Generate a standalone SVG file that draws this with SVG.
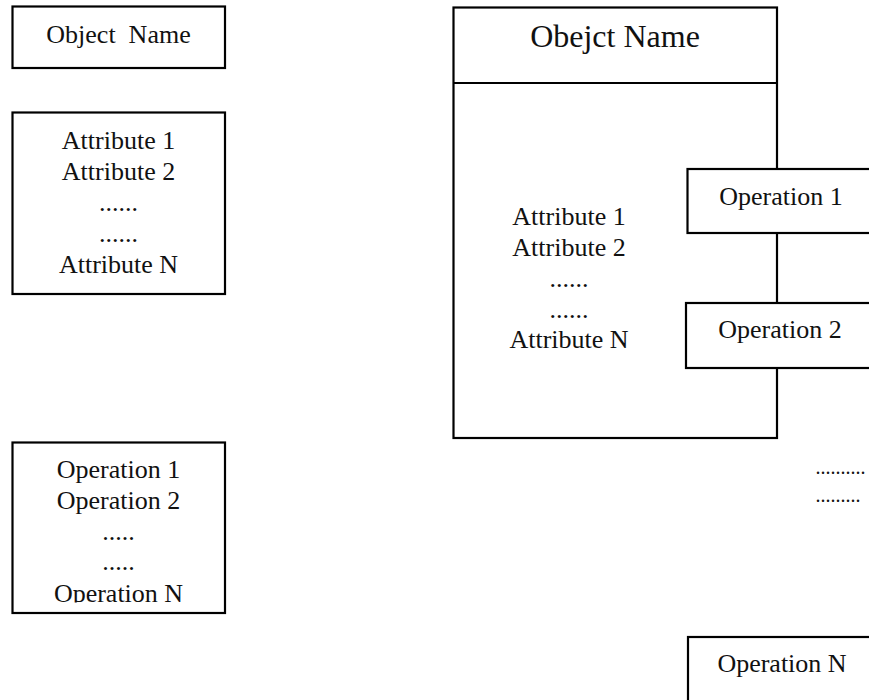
<svg xmlns="http://www.w3.org/2000/svg" width="869" height="700" viewBox="0 0 869 700">
<style>
.box{fill:#fff;stroke:#000;stroke-width:2.2}
.t{font-family:"Liberation Serif","Times New Roman",serif;font-size:26px;fill:#111;text-anchor:middle}
.dots{font-family:"Liberation Serif","Times New Roman",serif;font-size:20px;fill:#111}
</style>
<defs>
<clipPath id="clipOps"><rect x="12" y="442" width="213" height="160.5"/></clipPath>
</defs>
<rect width="869" height="700" fill="#fff"/>
<g id="object-name">
<rect class="box" x="12.5" y="6.5" width="212.5" height="61.5"/>
<text class="t" x="118.5" y="43" xml:space="preserve">Object  Name</text>
</g>
<g id="attributes">
<rect class="box" x="12.5" y="112.5" width="212.5" height="181.5"/>
<text class="t" x="118.5" y="149">Attribute 1</text>
<text class="t" x="118.5" y="180">Attribute 2</text>
<text class="t" x="118.5" y="211">......</text>
<text class="t" x="118.5" y="242">......</text>
<text class="t" x="118.5" y="273">Attribute N</text>
</g>
<g id="operations">
<rect class="box" x="12.5" y="442.5" width="212.5" height="170.5"/>
<g clip-path="url(#clipOps)">
<text class="t" x="118.5" y="478">Operation 1</text>
<text class="t" x="118.5" y="509">Operation 2</text>
<text class="t" x="118.5" y="540">.....</text>
<text class="t" x="118.5" y="570">.....</text>
<text class="t" x="118.5" y="601.5">Operation N</text>
</g>
</g>
<g id="object">
<rect class="box" x="453.5" y="7.5" width="323.5" height="430.5"/>
<line x1="453.5" y1="83" x2="777" y2="83" stroke="#000" stroke-width="2.2"/>
<text class="t" x="615" y="47" style="font-size:32px">Obejct Name</text>
<text class="t" x="569" y="225">Attribute 1</text>
<text class="t" x="569" y="256">Attribute 2</text>
<text class="t" x="569" y="287">......</text>
<text class="t" x="569" y="318">......</text>
<text class="t" x="569" y="348">Attribute N</text>
</g>
<g id="connectors"></g>
<g id="operation-1">
<rect class="box" x="687.5" y="169" width="200" height="64"/>
<text class="t" x="781" y="205">Operation 1</text>
</g>
<g id="operation-2">
<rect class="box" x="686" y="303" width="200" height="65"/>
<text class="t" x="780" y="338">Operation 2</text>
</g>
<g id="ellipsis">
<text class="dots" x="815.5" y="474">..........</text>
<text class="dots" x="815.5" y="502">.........</text>
</g>
<g id="operation-n">
<rect class="box" x="688" y="637" width="200" height="100"/>
<text class="t" x="782" y="672">Operation N</text>
</g>
</svg>
